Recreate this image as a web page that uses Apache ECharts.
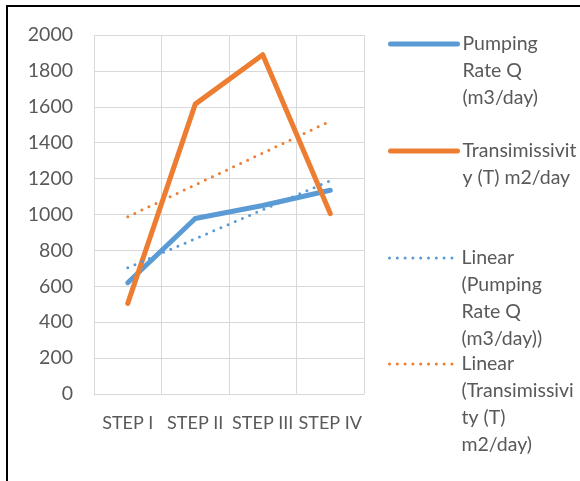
<!DOCTYPE html>
<html>
<head>
<meta charset="utf-8">
<script src="https://cdn.jsdelivr.net/npm/echarts@6/dist/echarts.min.js"></script>
<style>
  html, body { margin: 0; padding: 0; background: #fff; }
  #chart { width: 580px; height: 481px; }
</style>
</head>
<body>
<div id="chart"></div>
<script>
// Pumping test steps
const steps = ['STEP I', 'STEP II', 'STEP III', 'STEP IV'];
const pumpingRate = [620, 978, 1050, 1135];       // m3/day
const transmissivity = [505, 1615, 1890, 1005];   // m2/day
const yTicks = { min: 0, max: 2000, interval: 200 };

const nameQ = 'Pumping Rate Q (m3/day)';
const nameT = 'Transimissivity (T) m2/day';
const nameLinQ = 'Linear (Pumping Rate Q (m3/day))';
const nameLinT = 'Linear (Transimissivity (T) m2/day)';

// wrapped legend captions
const captions = {};
captions[nameQ] = ['Pumping', 'Rate Q', '(m3/day)'];
captions[nameT] = ['Transimissivit', 'y (T) m2/day'];
captions[nameLinQ] = ['Linear', '(Pumping', 'Rate Q', '(m3/day))'];
captions[nameLinT] = ['Linear', '(Transimissivi', 'ty (T)', 'm2/day)'];

// least-squares trend line evaluated at each step
function linearTrend(values) {
  const n = values.length;
  const xs = values.map((_, i) => i + 1);
  const mx = xs.reduce((a, b) => a + b, 0) / n;
  const my = values.reduce((a, b) => a + b, 0) / n;
  let sxy = 0, sxx = 0;
  xs.forEach((x, i) => { sxy += (x - mx) * (values[i] - my); sxx += (x - mx) * (x - mx); });
  const slope = sxy / sxx;
  return xs.map(x => my + slope * (x - mx));
}

const BLUE = '#5B9BD5';
const ORANGE = '#ED7D31';
const TEXT = '#595959';
const GRID = '#D9D9D9';
const FONT = 'Lato';
const LH = 27;

const solidStyle = { width: 5, cap: 'round', join: 'round' };
const dotStyle = { width: 3, type: [0, 7.8], cap: 'round' };

// legend entry whose key sits beside the first caption line
function legendFor(name, iconCenterY, keyStyle) {
  const n = captions[name].length;
  const blockH = (2 * n - 1) * LH;
  return {
    data: [name],
    left: 388,
    top: iconCenterY - blockH / 2,
    padding: 0,
    itemWidth: 67,
    itemHeight: 10,
    itemGap: 0,
    itemStyle: { opacity: 0 },
    lineStyle: keyStyle,
    formatter: nm => {
      const c = captions[nm];
      return new Array(c.length - 1).fill('').concat(c).join('\n');
    },
    textStyle: { color: TEXT, fontFamily: FONT, fontSize: 19.5, lineHeight: LH }
  };
}

const chart = echarts.init(document.getElementById('chart'), null, { renderer: 'canvas' });

chart.setOption({
  animation: false,
  backgroundColor: '#fff',
  textStyle: { fontFamily: FONT },
  graphic: [{
    type: 'rect',
    shape: { x: 7, y: 6, width: 700, height: 600 },
    style: { fill: null, stroke: '#000', lineWidth: 2 },
    silent: true
  }],
  grid: { left: 94, right: 216, top: 35, bottom: 87 },
  legend: [
    legendFor(nameQ, 44, solidStyle),
    legendFor(nameT, 151, solidStyle),
    legendFor(nameLinQ, 258, dotStyle),
    legendFor(nameLinT, 364, dotStyle)
  ],
  xAxis: {
    type: 'category',
    data: steps,
    boundaryGap: true,
    axisLine: { show: true, lineStyle: { color: GRID, width: 1 } },
    axisTick: { show: false },
    splitLine: { show: true, lineStyle: { color: GRID, width: 1 } },
    axisLabel: { color: TEXT, fontFamily: FONT, fontSize: 18, margin: 20, interval: 0 }
  },
  yAxis: {
    type: 'value',
    min: yTicks.min, max: yTicks.max, interval: yTicks.interval,
    axisLine: { show: false },
    axisTick: { show: false },
    splitLine: { show: true, lineStyle: { color: GRID, width: 1 } },
    axisLabel: { color: TEXT, fontFamily: FONT, fontSize: 19.5, margin: 21, formatter: v => String(v) }
  },
  series: [
    {
      name: nameQ, type: 'line', data: pumpingRate, symbol: 'none',
      lineStyle: Object.assign({ color: BLUE }, solidStyle),
      itemStyle: { color: BLUE }
    },
    {
      name: nameT, type: 'line', data: transmissivity, symbol: 'none',
      lineStyle: Object.assign({ color: ORANGE }, solidStyle),
      itemStyle: { color: ORANGE }
    },
    {
      name: nameLinQ, type: 'line', data: linearTrend(pumpingRate), symbol: 'none',
      lineStyle: Object.assign({ color: BLUE }, dotStyle),
      itemStyle: { color: BLUE }
    },
    {
      name: nameLinT, type: 'line', data: linearTrend(transmissivity), symbol: 'none',
      lineStyle: Object.assign({ color: ORANGE }, dotStyle),
      itemStyle: { color: ORANGE }
    }
  ]
});
</script>
</body>
</html>
